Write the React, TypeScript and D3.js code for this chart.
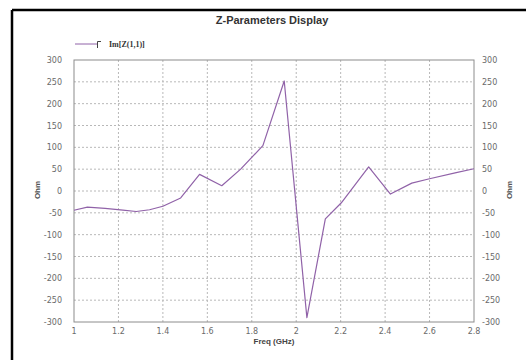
import React from "react";
import * as d3 from "d3";

// Im[Z(1,1)] sweep, frequency in GHz, reactance in Ohm
const freqGHz = [1.0, 1.06, 1.14, 1.22, 1.28, 1.34, 1.4, 1.48, 1.565, 1.665, 1.75, 1.85, 1.946, 2.048, 2.131, 2.203, 2.326, 2.424, 2.52, 2.6, 2.72, 2.8];
const imZ11 = [-44, -37, -40, -44, -47, -43, -35, -16, 38, 12, 50, 104, 252, -290, -64, -27, 55, -7, 18, 28, 42, 51];

const xTicks = [1, 1.2, 1.4, 1.6, 1.8, 2, 2.2, 2.4, 2.6, 2.8];
const yTicks = [300, 250, 200, 150, 100, 50, 0, -50, -100, -150, -200, -250, -300];

const W = 526;
const H = 360;
const plot = { left: 74, right: 474, top: 60, bottom: 322 };

export default function App() {
  const x = d3.scaleLinear().domain([1, 2.8]).range([plot.left, plot.right]);
  const y = d3.scaleLinear().domain([-300, 300]).range([plot.bottom, plot.top]);
  const pts: [number, number][] = freqGHz.map((f, i) => [f, imZ11[i]]);
  const line = d3
    .line<[number, number]>()
    .x((d) => x(d[0]))
    .y((d) => y(d[1]));

  const font = "'DejaVu Sans', 'Liberation Sans', Arial, sans-serif";
  const tickColor = "#6a6a6a";
  const traceColor = "#9062a8";

  return (
    <svg
      width={W}
      height={H}
      style={{ position: "absolute", left: 0, top: 0, background: "#fff" }}
      fontFamily={font}
    >
      {/* outer frame */}
      <line x1={12} y1={10} x2={W} y2={10} stroke="#000" strokeWidth={2.5} />
      <line x1={12} y1={10} x2={12} y2={H} stroke="#000" strokeWidth={2.5} />

      <text x={272} y={24} textAnchor="middle" fontSize={11} fontWeight="bold" fill="#333" fontFamily="'Liberation Sans', Arial, sans-serif">
        Z-Parameters Display
      </text>

      {/* legend */}
      <line x1={75} y1={44} x2={97} y2={44} stroke={traceColor} strokeWidth={1} />
      <path d="M97.5,48 V41.5 H101" fill="none" stroke="#444" strokeWidth={1} />
      <text x={109} y={47} fontSize={8} fontWeight="bold" fill="#333" fontFamily="'Liberation Serif', serif">
        Im[Z(1,1)]
      </text>

      {/* grid */}
      {xTicks.slice(1, -1).map((t) => (
        <line key={"gx" + t} x1={x(t)} x2={x(t)} y1={plot.top} y2={plot.bottom} stroke="#b8b8b8" strokeWidth={1} strokeDasharray="2,2" />
      ))}
      {yTicks.slice(1, -1).map((t) => (
        <line key={"gy" + t} x1={plot.left} x2={plot.right} y1={y(t)} y2={y(t)} stroke="#b8b8b8" strokeWidth={1} strokeDasharray="2,2" />
      ))}

      <rect
        x={plot.left}
        y={plot.top}
        width={plot.right - plot.left}
        height={plot.bottom - plot.top}
        fill="none"
        stroke="#8c8c8c"
        strokeWidth={1}
      />

      {/* axis labels */}
      {yTicks.map((t) => (
        <text key={"yl" + t} x={62} y={y(t) + 3} textAnchor="end" fontSize={8} fill={tickColor}>
          {t}
        </text>
      ))}
      {yTicks.map((t) => (
        <text key={"yr" + t} x={482} y={y(t) + 3} textAnchor="start" fontSize={8} fill={tickColor}>
          {t}
        </text>
      ))}
      {xTicks.map((t) => (
        <text key={"xl" + t} x={x(t)} y={334} textAnchor="middle" fontSize={8} fill={tickColor}>
          {String(t)}
        </text>
      ))}
      <text x={274} y={344} textAnchor="middle" fontSize={8} fontWeight="bold" fill="#444" fontFamily="'Liberation Sans', Arial, sans-serif">
        Freq (GHz)
      </text>
      <text transform="translate(40,190) rotate(-90)" textAnchor="middle" fontSize={8} fontWeight="bold" fill="#555" fontFamily="'Liberation Sans', Arial, sans-serif">
        Ohm
      </text>
      <text transform="translate(512,190) rotate(-90)" textAnchor="middle" fontSize={8} fontWeight="bold" fill="#555" fontFamily="'Liberation Sans', Arial, sans-serif">
        Ohm
      </text>

      <path d={line(pts) || ""} fill="none" stroke={traceColor} strokeWidth={1.2} strokeLinejoin="round" />
    </svg>
  );
}
